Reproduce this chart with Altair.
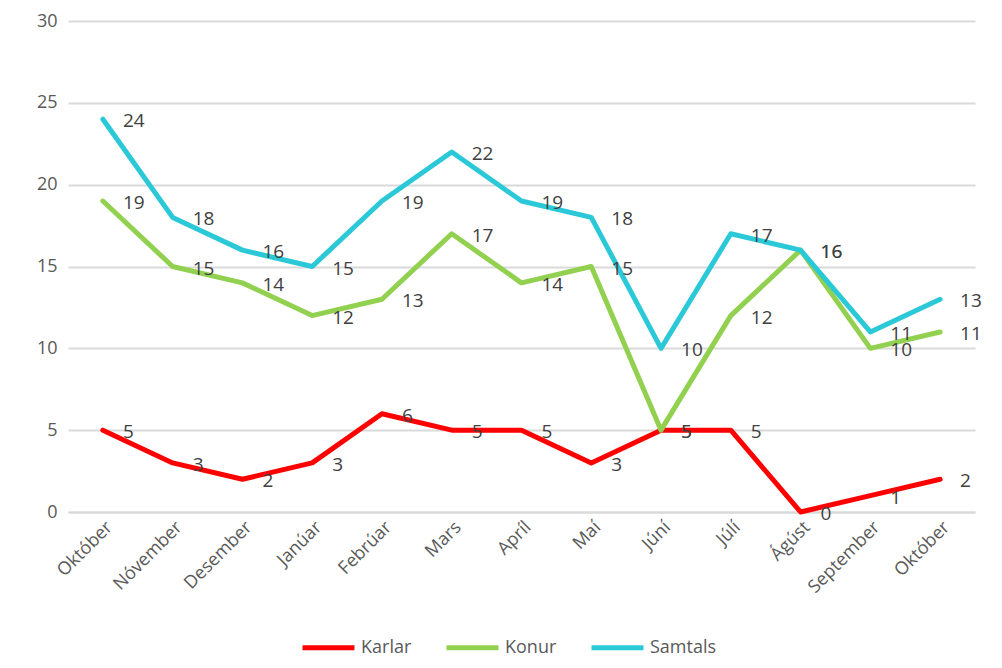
import altair as alt
import pandas as pd

months = ["Október", "Nóvember", "Desember", "Janúar", "Febrúar", "Mars", "Apríl",
          "Maí", "Júní", "Júlí", "Ágúst", "September", "Október"]
karlar = [5, 3, 2, 3, 6, 5, 5, 3, 5, 5, 0, 1, 2]
konur = [19, 15, 14, 12, 13, 17, 14, 15, 5, 12, 16, 10, 11]
samtals = [24, 18, 16, 15, 19, 22, 19, 18, 10, 17, 16, 11, 13]
series = ["Karlar", "Konur", "Samtals"]
colors = ["#FF0000", "#92D050", "#2BC8D8"]

rows = []
for name, vals in zip(series, [karlar, konur, samtals]):
    for i, v in enumerate(vals):
        rows.append({"idx": i, "month": months[i], "series": name, "value": v})
df = pd.DataFrame(rows)

FONT = "Open Sans"
label_arr = "[" + ",".join("'" + m + "'" for m in months) + "]"

x = alt.X("idx:O", title=None, sort=list(range(len(months))),
          scale=alt.Scale(type="point", padding=0.5),
          axis=alt.Axis(labelExpr=label_arr + "[datum.value]", labelAngle=-45,
                        labelFontSize=18, labelColor="#595959", labelFont=FONT,
                        ticks=False, domain=True, domainColor="#D9D9D9",
                        domainWidth=2, labelPadding=6, grid=False))
y = alt.Y("value:Q", title=None,
          scale=alt.Scale(domain=[0, 30], nice=False),
          axis=alt.Axis(values=[0, 5, 10, 15, 20, 25, 30], labelFontSize=18,
                        labelColor="#595959", labelFont=FONT, ticks=False,
                        domain=False, gridColor="#D9D9D9", gridWidth=2,
                        labelPadding=11))
color = alt.Color("series:N", scale=alt.Scale(domain=series, range=colors),
                  legend=alt.Legend(title=None, orient="none", direction="horizontal",
                                    legendX=232, legendY=598, symbolType="stroke",
                                    symbolSize=2700, symbolStrokeWidth=5,
                                    labelFontSize=18, labelColor="#595959",
                                    labelFont=FONT, columnPadding=24,
                                    labelOffset=4))

lines = alt.Chart(df).mark_line(strokeWidth=5, strokeCap="round", strokeJoin="round").encode(
    x=x, y=y, color=color, order="idx:O")
labels = alt.Chart(df).mark_text(align="left", baseline="middle", dx=20, dy=2,
                                 fontSize=19, color="#404040", font=FONT).encode(
    x=x, y=y, text="value:Q")

chart = alt.layer(lines, labels).properties(
    width=907, height=491,
    autosize=alt.AutoSizeParams(type="none"),
    padding={"left": 60, "top": 13, "right": 18, "bottom": 148},
).configure(background="white", view=alt.ViewConfig(stroke=None))

chart.save("out.html", embed_options={"renderer": "svg", "actions": False})
